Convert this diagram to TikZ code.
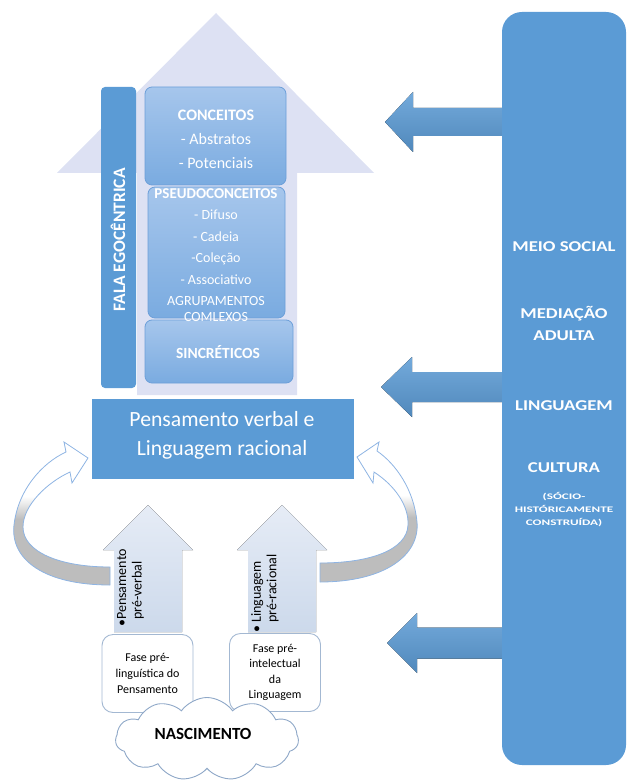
\documentclass[tikz,border=0pt]{standalone}
\usepackage{fontspec}
\setmainfont{Carlito}
\newfontfamily\widefont[FakeStretch=1.25]{Carlito}
\newfontfamily\widerfont[FakeStretch=1.55]{Carlito}
\usetikzlibrary{shapes.symbols}
\definecolor{mainblue}{HTML}{5B9BD5}
\definecolor{lavender}{HTML}{DDE1F3}
\definecolor{boxtop}{HTML}{A6C6EC}
\definecolor{boxbot}{HTML}{7AABE0}
\definecolor{boxline}{HTML}{6C9FD9}
\definecolor{bandline}{HTML}{8EB4E3}
\definecolor{paletop}{HTML}{E6ECF6}
\definecolor{palebot}{HTML}{CCD9EB}
\definecolor{phaseline}{HTML}{A3B8D2}
\definecolor{cloudline}{HTML}{8FA8C8}
\pgfdeclareverticalshading{bandshade}{100bp}{color(0bp)=(black!26); color(25bp)=(black!26); color(48bp)=(black!26); color(56bp)=(white); color(100bp)=(white)}

\begin{document}
\begin{tikzpicture}[x=1pt, y=-1pt]
        \tikzstyle{stage} = [rectangle, rounded corners=7pt, top color=boxtop, bottom color=boxbot, draw=boxline, line width=0.8pt]
        \tikzstyle{boxtext} = [text=white, align=center, font=\fontsize{16}{24}\selectfont]
        \tikzstyle{socialtext} = [text=white, align=center, font=\widefont\bfseries\fontsize{15}{22}\selectfont]
        \tikzstyle{phase} = [rectangle, rounded corners=11pt, draw=phaseline, fill=white, line width=0.9pt, minimum width=91, minimum height=78, align=center, font=\fontsize{12}{15.6}\selectfont]
        \tikzstyle{band} = [draw=bandline, line width=0.8pt, shading=bandshade]
        \tikzstyle{uptext} = [rotate=90, anchor=north west, inner sep=0, align=left, font=\fontsize{14}{15.5}\selectfont]
        \useasboundingbox (0,0) rectangle (627,783);
        % big arrow behind the stages
        \fill [lavender] (216,13) -- (374,173) -- (297,173) -- (297,395) -- (137,395) -- (137,173) -- (57,173) -- cycle;
        \node (fala) at (118.5,237.5) [rectangle, rounded corners=4pt, fill=mainblue, minimum width=35, minimum height=301] {};
        \node (falatxt) at (118,240) [rotate=90, text=white, font=\bfseries\fontsize{17.5}{20}\selectfont] {FALA EGOCÊNTRICA};
        \node (conceitos) at (215.5,136) [stage, minimum width=141, minimum height=98] {};
        \node (pseudo) at (216.5,252.5) [stage, minimum width=137, minimum height=131] {};
        \node (sincreticos) at (219,351.5) [stage, minimum width=148, minimum height=63] {};
        \node (conceitostxt) at (216,139.5) [boxtext] {\textbf{CONCEITOS}\\- Abstratos\\- Potenciais};
        \node (pseudotxt) at (216,255) [boxtext, font=\fontsize{14}{21.5}\selectfont] {\textbf{\fontsize{15}{21.5}\selectfont PSEUDOCONCEITOS}\\- Difuso\\- Cadeia\\-Coleção\\- Associativo\\AGRUPAMENTOS\\[-5.5pt]COMLEXOS};
        \node (sincreticostxt) at (218,352) [boxtext, font=\bfseries\fontsize{15.5}{18}\selectfont] {SINCRÉTICOS};
        % verbal thought
        \node (verbal) at (223,439) [rectangle, fill=mainblue, minimum width=262, minimum height=80] {};
        \node (verbaltxt) at (222,435) [text=white, align=center, font=\fontsize{21.7}{29}\selectfont] {Pensamento verbal e\\Linguagem racional};
        % small arrows
        \foreach \cx in {148,282}
            \fill [top color=paletop, bottom color=palebot] (\cx,505) -- (\cx+45,550) -- (\cx+34,550) -- (\cx+34,632) -- (\cx-34,632) -- (\cx-34,550) -- (\cx-45,550) -- cycle;
        \node (preverbal) at (117,627) [uptext] {•Pensamento\\\hphantom{•}pré-verbal};
        \node (preracional) at (251,633) [uptext] {• Linguagem\\\hphantom{• }pré-racional};
        % curved arrows
        \draw [band] (110,585) .. controls (45,585) and (10,560) .. (14,525) .. controls (18,490) and (42,463) .. (66,452) -- (64,442) -- (88,458) -- (72,483) -- (70,472) .. controls (48,482) and (23,505) .. (23,527) .. controls (23,552) and (60,567) .. (110,567) -- cycle;
        \draw [band] (320,582) .. controls (385,582) and (420,555) .. (417,522) .. controls (414,490) and (396,464) .. (377,451) -- (379,442) -- (357,457) -- (373,483) -- (374,472) .. controls (394,485) and (409,505) .. (408,525) .. controls (407,550) and (370,563) .. (320,563) -- cycle;
        % birth
        \node (linguistica) at (147.5,673.5) [phase] {Fase pré-\\linguística do\\Pensamento};
        \node (intelectual) at (275,672.5) [phase] {Fase pré-\\intelectual\\da\\Linguagem};
        \node (nascimento) at (207,739) [cloud, cloud puffs=11, cloud puff arc=110, aspect=2.2, draw=cloudline, fill=white, line width=0.9pt, minimum width=183, minimum height=83, inner sep=0] {};
        \node (nasctxt) at (203,734) [font=\bfseries\fontsize{17}{20}\selectfont] {NASCIMENTO};
        % influences from the social side
        \foreach \tx/\ty/\hx/\sh in {385/122/413/14, 381/387/412/15, 387/643/417/15.5}
            \fill [top color=mainblue!85!white, bottom color=mainblue!88!black] (\tx,\ty) -- (\hx,\ty-30) -- (\hx,\ty-\sh) -- (506,\ty-\sh) -- (506,\ty+\sh) -- (\hx,\ty+\sh) -- (\hx,\ty+30) -- cycle;
        \node (meio) at (564,388.5) [rectangle, rounded corners=20pt, fill=mainblue, minimum width=124, minimum height=753] {};
        \node (social) at (564,247) [socialtext] {MEIO SOCIAL};
        \node (mediacao) at (564,323) [socialtext] {MEDIAÇÃO\\ADULTA};
        \node (linguagem) at (564,406) [socialtext] {LINGUAGEM};
        \node (cultura) at (564,468) [socialtext] {CULTURA};
        \node (historia) at (564,510) [text=white, align=center, font=\widerfont\bfseries\fontsize{8.5}{13}\selectfont] {(SÓCIO-\\HISTÓRICAMENTE\\CONSTRUÍDA)};
    \end{tikzpicture}
\end{document}
